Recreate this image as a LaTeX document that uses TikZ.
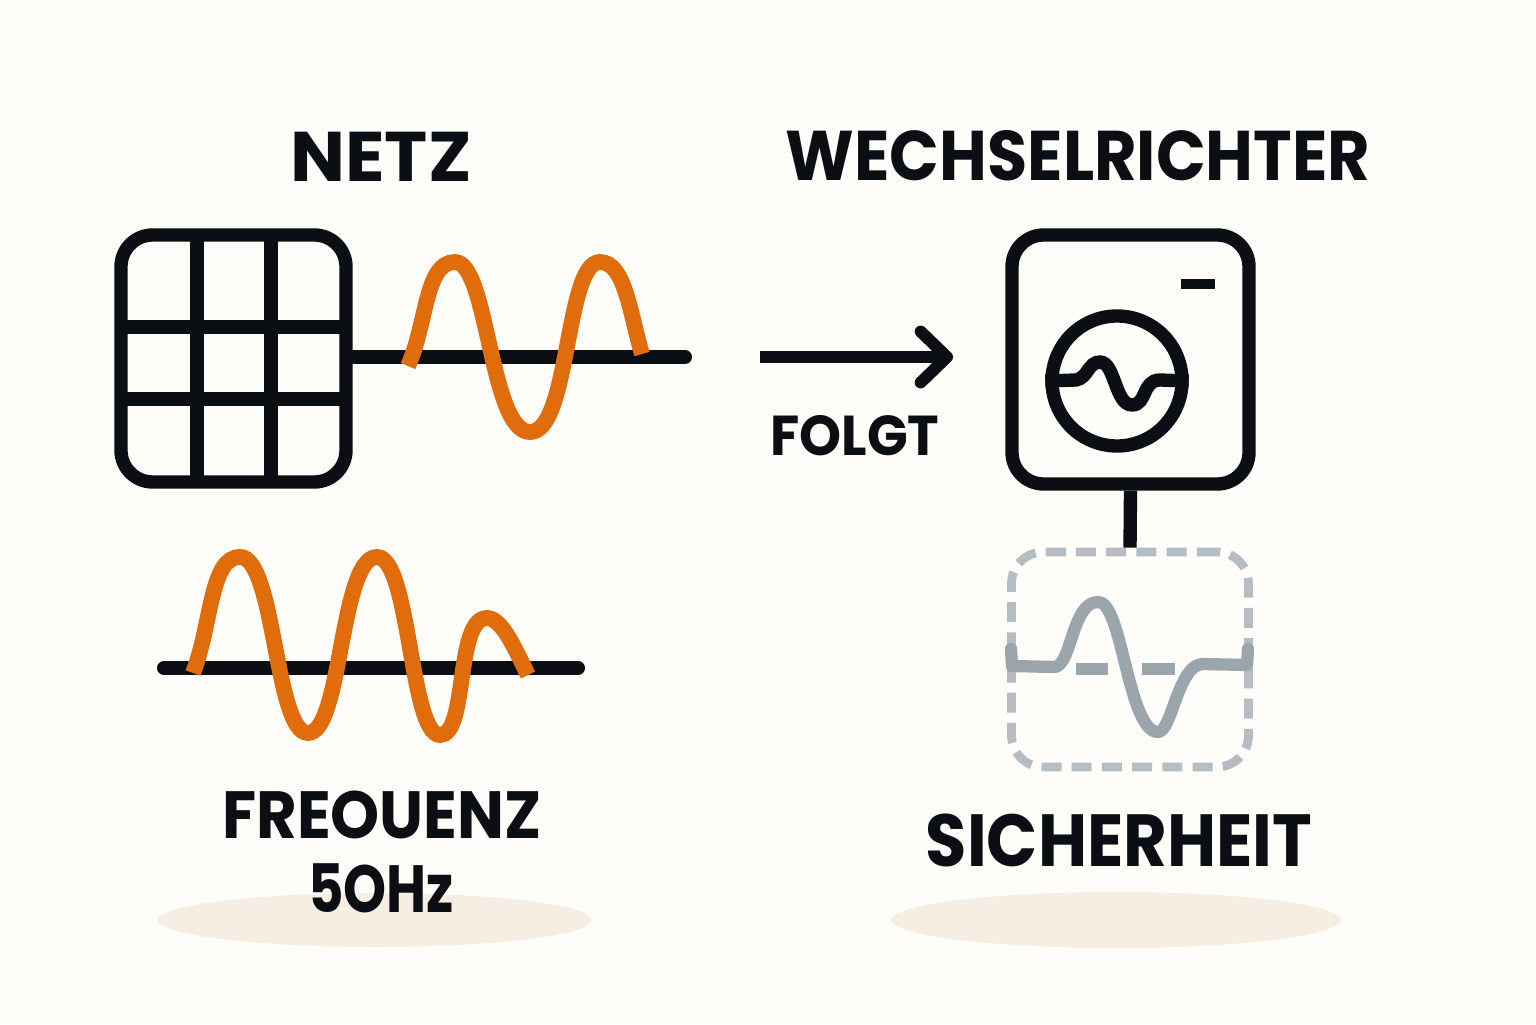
\documentclass[tikz,border=0pt]{standalone}
\usepackage{fontspec}
\setmainfont{Poppins}
\usetikzlibrary{arrows.meta}
\definecolor{paper}{RGB}{254,253,250}
\definecolor{ink}{RGB}{11,15,19}
\definecolor{wave}{RGB}{224,108,12}
\definecolor{sandton}{RGB}{246,238,227}
\definecolor{ghost}{RGB}{182,189,194}
\definecolor{ghostwave}{RGB}{155,165,172}
\tikzset{
  heavy/.style={draw=ink, line width=3.8pt},
  iconbox/.style={heavy, rounded corners=9pt, inner sep=0pt},
  sinus/.style={draw=wave, line width=4.5pt},
  greyline/.style={draw=ghostwave, line width=3.5pt},
  caption/.style={text=ink, inner sep=0pt},
}
\begin{document}
\begin{tikzpicture}
        \fill[paper] (0,0) rectangle (15.36,10.24);
        \fill[sandton] (3.75,1.04) ellipse (2.17 and 0.27);
        \fill[sandton] (11.16,1.04) ellipse (2.25 and 0.28);

        \node[iconbox, minimum width=2.25cm, minimum height=2.47cm](netzbox) at (2.335,6.655) {};
        \node[iconbox, minimum width=2.37cm, minimum height=2.49cm](wrbox) at (11.305,6.645) {};
        \node[heavy, circle, minimum size=1.30cm, inner sep=0pt](wrkreis) at (11.17,6.43) {};
        \node[iconbox, draw=ghost, line width=2.5pt, dash pattern=on 5.7pt off 2.9pt, minimum width=2.37cm, minimum height=2.15cm](sichbox) at (11.30,3.645) {};

        \draw[heavy] (1.97,7.89) -- (1.97,5.42);  % grid
        \draw[heavy] (2.71,7.89) -- (2.71,5.42);
        \draw[heavy] (1.21,6.97) -- (3.46,6.97);
        \draw[heavy] (1.21,6.25) -- (3.46,6.25);

        \coordinate (netzend) at (6.85,6.67);
        \coordinate (freqstart) at (1.64,3.56);
        \coordinate (freqend) at (5.78,3.56);
        \coordinate (pfeilstart) at (7.60,6.67);
        \coordinate (pfeilend) at (9.53,6.67);
        \coordinate (ledlinks) at (11.81,7.40);
        \coordinate (ledrechts) at (12.15,7.40);

        \draw[ink, line width=4pt, line cap=round] (netzbox.east |- netzend) -- (netzend);
        \draw[ink, line width=4pt, line cap=round] (freqstart) -- (freqend);
        \draw[ink, line width=3.4pt, -{Straight Barb[length=7.5pt,width=14.5pt,round]}] (pfeilstart) -- (pfeilend);
        \draw[ink, line width=2.9pt] (ledlinks) -- (ledrechts);
        \draw[heavy] (wrbox.south) -- (sichbox.north);

        \draw[sinus] (4.08,6.58) .. controls (4.27,7.0) and (4.25,7.62) .. (4.55,7.62)
            .. controls (4.88,7.62) and (4.9,5.92) .. (5.30,5.92)
            .. controls (5.7,5.92) and (5.65,7.62) .. (6.00,7.62)
            .. controls (6.25,7.62) and (6.3,7.1) .. (6.42,6.70);
        \draw[sinus] (1.93,3.51) .. controls (2.12,4.0) and (2.1,4.67) .. (2.40,4.67)
            .. controls (2.75,4.67) and (2.75,2.91) .. (3.08,2.91)
            .. controls (3.42,2.91) and (3.4,4.67) .. (3.77,4.67)
            .. controls (4.1,4.67) and (4.1,2.89) .. (4.40,2.89)
            .. controls (4.68,2.89) and (4.55,4.06) .. (4.87,4.06)
            .. controls (5.02,4.06) and (5.15,3.75) .. (5.28,3.49);

        \draw[heavy] (wrkreis.west) -- (10.76,6.44) .. controls (10.88,6.46) and (10.88,6.62) .. (11.0,6.62)
            .. controls (11.15,6.62) and (11.15,6.19) .. (11.32,6.19)
            .. controls (11.47,6.19) and (11.42,6.44) .. (11.6,6.44) -- (wrkreis.east);

        \draw[greyline, line join=round, line cap=round] (10.11,3.75) -- (10.12,3.58) -- (10.55,3.57)
            .. controls (10.72,3.6) and (10.72,4.22) .. (10.98,4.22)
            .. controls (11.22,4.24) and (11.28,2.92) .. (11.58,2.92)
            .. controls (11.72,2.92) and (11.78,3.6) .. (12.03,3.6) -- (12.47,3.59) -- (12.48,3.75);
        \draw[greyline] (10.76,3.55) -- (11.08,3.55);
        \draw[greyline] (11.42,3.55) -- (11.75,3.55);

        \node[caption, xscale=1.04, font=\bfseries\fontsize{20}{24}\selectfont](netztxt) at (3.81,8.67) {NETZ};
        \node[caption, xscale=.93, font=\bfseries\fontsize{20}{24}\selectfont](wrtxt) at (10.78,8.68) {WECHSELRICHTER};
        \node[caption, xscale=.95, font=\bfseries\fontsize{16}{20}\selectfont](folgttxt) at (8.55,5.88) {FOLGT};
        \node[caption, xscale=.935, font=\bfseries\fontsize{19}{24}\selectfont](freqtxt) at (3.82,2.09) {FREOUENZ};
        \node[caption, xscale=.82, font=\bfseries\fontsize{19}{24}\selectfont](hztxt) at (3.81,1.36) {5OHz};
        \node[caption, xscale=.91, font=\bfseries\fontsize{21}{24}\selectfont](sichtxt) at (11.19,1.84) {SICHERHEIT};
    \end{tikzpicture}
\end{document}
